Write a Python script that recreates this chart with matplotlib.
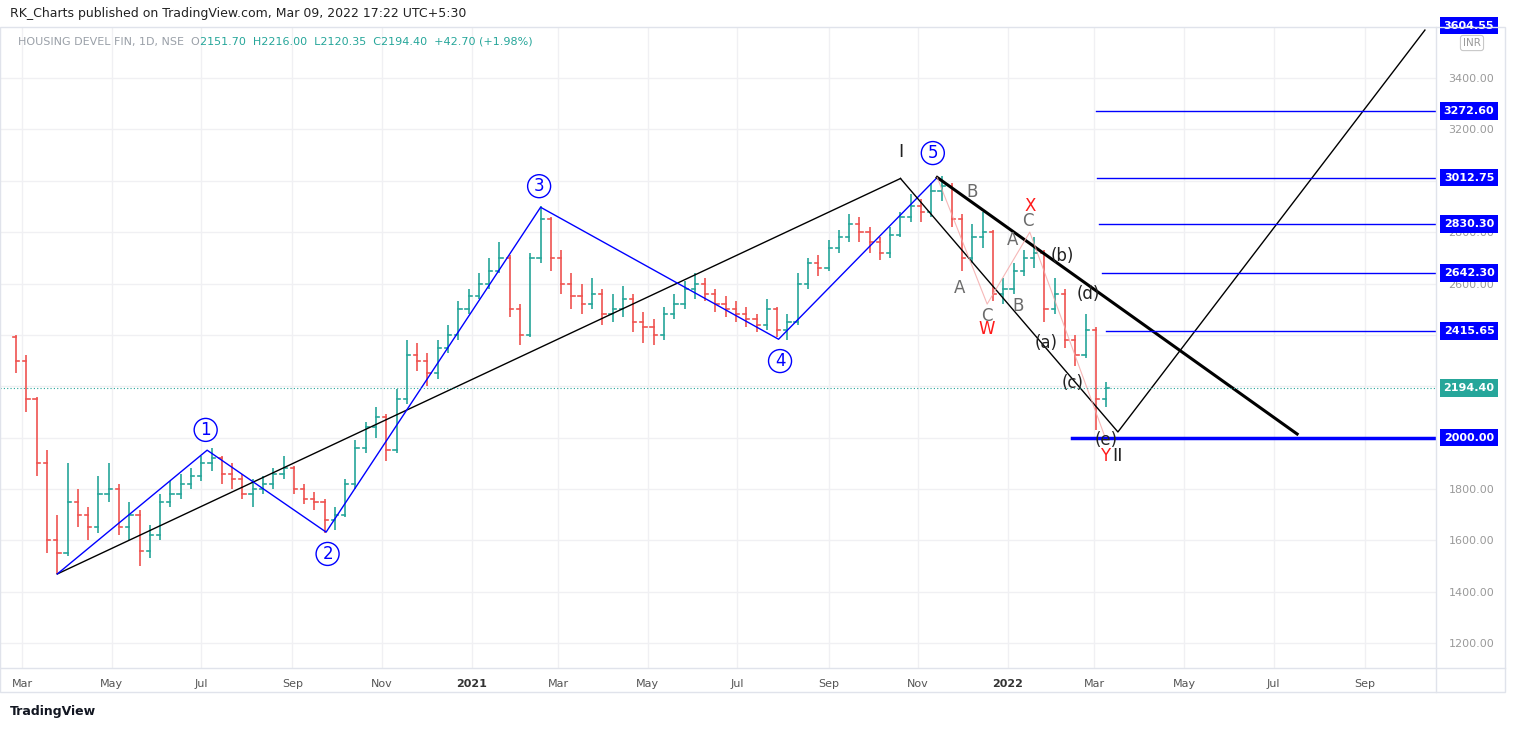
import matplotlib
matplotlib.use("Agg")
import matplotlib.pyplot as plt
import matplotlib.dates as mdates
import matplotlib.transforms as mtrans
import matplotlib.patches as mpatches
import pandas as pd

start_week = "2020-02-24"
closes = [2300,2150,1900,1600,1550,1750,1700,1650,1780,1800,1650,1700,1560,1620,1750,1780,1820,1850,1900,1920,
          1860,1840,1780,1800,1820,1860,1880,1800,1760,1750,1680,1700,1820,1960,2040,2080,1950,2150,2320,2300,
          2250,2350,2400,2500,2550,2600,2650,2700,2500,2400,2700,2850,2700,2600,2550,2520,2560,2480,2500,2540,
          2450,2430,2400,2480,2520,2580,2600,2560,2520,2500,2480,2460,2440,2500,2420,2450,2600,2680,2660,2740,
          2780,2830,2800,2760,2720,2790,2860,2900,2880,2960,2980,2850,2700,2780,2800,2560,2580,2650,2700,2720,
          2500,2560,2380,2320,2420,2150,2194.40]
highs = [2400,2320,2160,1950,1700,1900,1800,1730,1850,1900,1820,1750,1720,1660,1780,1830,1860,1880,1930,1960,
         1930,1900,1860,1840,1850,1880,1930,1890,1820,1790,1760,1730,1840,1990,2060,2120,2090,2190,2380,2370,
         2330,2380,2440,2530,2580,2640,2700,2760,2710,2520,2720,2900,2860,2730,2640,2600,2620,2580,2560,2590,
         2560,2490,2460,2510,2560,2610,2640,2620,2580,2550,2530,2510,2480,2540,2510,2480,2640,2700,2710,2770,
         2810,2870,2860,2820,2780,2820,2880,2950,2930,2990,3020,2990,2870,2830,2880,2810,2620,2680,2730,2780,
         2730,2620,2580,2400,2480,2430,2216]
lows = [2250,2100,1850,1550,1470,1540,1650,1600,1630,1750,1620,1600,1500,1530,1600,1730,1760,1800,1830,1870,
        1820,1800,1760,1730,1780,1800,1840,1780,1740,1720,1630,1640,1690,1800,1940,2000,1910,1940,2130,2260,
        2200,2230,2330,2380,2480,2540,2580,2640,2470,2360,2390,2680,2650,2560,2500,2480,2500,2440,2450,2470,
        2410,2370,2360,2380,2460,2500,2540,2530,2490,2470,2450,2430,2410,2420,2390,2380,2440,2580,2630,2650,
        2720,2760,2760,2720,2690,2700,2780,2840,2840,2860,2920,2820,2650,2680,2740,2530,2520,2560,2630,2660,
        2450,2480,2350,2280,2310,2030,2120]
first_open = 2390
last_open = 2151.70

wave_dates = ["2020-03-25","2020-07-05","2020-09-24","2021-02-17","2021-07-29","2021-11-14"]
wave_prices = [1469,1951,1632,2897,2383,3013]
wave_labels = ["1","2","3","4","5"]
wave_label_pos = [("2020-07-04",2030),("2020-09-25",1547),("2021-02-16",2979),("2021-07-30",2298),("2021-11-11",3108)]
big_dates = ["2020-03-25","2021-10-20"]; big_prices = [1469,3009]
thin_dates = ["2021-10-20","2022-03-17","2022-10-12"]; thin_prices = [3009,2022,3587]
thick_dates = ["2021-11-14","2022-07-17"]; thick_prices = [3013,2014]
wxy_dates = ["2021-11-14","2021-12-18","2022-01-16","2022-03-09"]; wxy_prices = [3013,2520,2800,1990]
levels = [3272.60,3012.75,2830.30,2642.30,2415.65,2000.00]
level_starts = ["2022-03-02","2022-03-03","2022-03-04","2022-03-06","2022-03-09","2022-02-14"]
top_level = 3604.55
last_price = 2194.40
gray_labels = [("B","2021-12-08",2956),("C","2022-01-15",2843),("A","2022-01-04",2769),
               ("A","2021-11-29",2583),("B","2022-01-08",2512),("C","2021-12-18",2473)]
red_labels = [("X","2022-01-16",2902),("W","2021-12-18",2422),("Y","2022-03-08",1928)]
dark_labels = [("(b)","2022-02-07",2707),("(d)","2022-02-25",2559),("(a)","2022-01-27",2368),
               ("(c)","2022-02-14",2212),("(e)","2022-03-09",1990),("I","2021-10-20",3112),("II","2022-03-17",1928)]
yticks = [1200,1400,1600,1800,2000,2200,2400,2600,2800,3000,3200,3400]
hidden_ticks = [2000,2200,2400,3000]

UP, DN = "#26a69a", "#ef5350"
W, H = 1514, 730
fig = plt.figure(figsize=(15.14, 7.30), dpi=100)
AX_R = 1436
ax = fig.add_axes([0, (H-668)/H, AX_R/W, (668-27)/H])
d = lambda s: mdates.date2num(pd.Timestamp(s))
x0 = d("2020-02-15"); x1 = x0 + AX_R/1.469
ax.set_xlim(x0, x1)
ax.set_ylim(2000 - (668-437.6)/0.2568, 2000 + (437.6-27)/0.2568)

dates = pd.date_range(start_week, periods=len(closes), freq="7D") + pd.Timedelta(days=2)
xs = mdates.date2num(dates)
opens = [first_open] + closes[:-1]
opens[-1] = last_open
for x, o, h, l, c in zip(xs, opens, highs, lows, closes):
    col = UP if c >= o else DN
    ax.plot([x, x], [l, h], color=col, lw=1.2, solid_capstyle="butt")
    ax.plot([x - 2.2, x], [o, o], color=col, lw=1.2)
    ax.plot([x, x + 2.2], [c, c], color=col, lw=1.2)

ax.plot([d(s) for s in big_dates], big_prices, color="black", lw=1)
ax.plot([d(s) for s in wave_dates], wave_prices, color="#0000ff", lw=1)
ax.plot([d(s) for s in thin_dates], thin_prices, color="black", lw=1)
ax.plot([d(s) for s in thick_dates], thick_prices, color="black", lw=2.2)
ax.plot([d(s) for s in wxy_dates], wxy_prices, color="#f4a6a6", lw=0.8, alpha=0.8)

for (s, p), t in zip(wave_label_pos, wave_labels):
    ax.text(d(s), p, t, color="#0000ff", fontsize=12, ha="center", va="center",
            bbox=dict(boxstyle="circle,pad=0.15", fc="white", ec="#0000ff", lw=1))
for t, s, p in gray_labels:
    ax.text(d(s), p, t, color="#6b6b6b", fontsize=12, ha="center", va="center")
for t, s, p in red_labels:
    ax.text(d(s), p, t, color="#ff1a1a", fontsize=12, ha="center", va="center")
for t, s, p in dark_labels:
    ax.text(d(s), p, t, color="#222222", fontsize=12 if len(t) > 2 else 13, ha="center", va="center")

LX = 1469 / AX_R
bt = mtrans.blended_transform_factory(ax.transAxes, ax.transData)
def price_box(v, fc):
    ax.text(LX, v, f"{v:.2f}", transform=bt, color="white", fontsize=8, fontweight="bold",
            ha="center", va="center", clip_on=False,
            bbox=dict(boxstyle="square,pad=0.35", fc=fc, ec="none"), zorder=10)
for lv, s in zip(levels, level_starts):
    ax.plot([d(s), x1], [lv, lv], color="#0000ff", lw=2.5 if lv == 2000 else 1)
    price_box(lv, "#0000ff")
price_box(top_level, "#0000ff")
ax.axhline(last_price, color="#26a69a", lw=0.8, ls=(0, (1, 2)))
price_box(last_price, UP)
fig.text(1472/W, 1 - 43/H, "INR", fontsize=7.5, color="#9a9a9a", ha="center", va="center",
         bbox=dict(boxstyle="round,pad=0.25", fc="white", ec="#c8c8c8", lw=0.8), zorder=11)

ax.set_yticks(yticks)
ax.yaxis.tick_right()
ax.set_yticklabels(["" if v in hidden_ticks else f"{v:.2f}" for v in yticks], color="#9a9a9a", fontsize=8)
ax.tick_params(axis="y", length=0, pad=9)
ticks, labels = [], []
for m in pd.date_range("2020-03-01", "2022-09-01", freq="2MS"):
    ticks.append(d(m)); labels.append(str(m.year) if m.month == 1 else m.strftime("%b"))
ax.set_xticks(ticks)
ax.set_xticklabels(labels, fontsize=8, color="#555555")
for lab in ax.get_xticklabels():
    if lab.get_text().isdigit():
        lab.set_fontweight("bold"); lab.set_color("#333333")
ax.tick_params(axis="x", length=0, pad=8)
ax.grid(True, color="#f0f0f3", lw=1)
for sp in ax.spines.values():
    sp.set_visible(False)
fig.add_artist(mpatches.Rectangle((0, (H-692)/H), 1505/W, (692-27)/H, transform=fig.transFigure,
                                  fill=False, ec="#e0e3eb", lw=1))
fig.add_artist(plt.Line2D([AX_R/W]*2, [(H-692)/H, (H-27)/H], transform=fig.transFigure, color="#e0e3eb", lw=1))
fig.add_artist(plt.Line2D([0, 1505/W], [(H-668)/H]*2, transform=fig.transFigure, color="#e0e3eb", lw=1))

fig.text(10/W, 1 - 13/H, "RK_Charts published on TradingView.com, Mar 09, 2022 17:22 UTC+5:30",
         fontsize=9, color="#222222", va="center")
t1 = fig.text(18/W, 1 - 42/H, "HOUSING DEVEL FIN, 1D, NSE  O", fontsize=8, color="#9aa0a8", va="center")
plt.annotate("2151.70  H2216.00  L2120.35  C2194.40  +42.70 (+1.98%)", xy=(1, 0.5), xycoords=t1,
             va="center", ha="left", fontsize=8, color=UP, annotation_clip=False)
fig.text(10/W, 1 - 712/H, "TradingView", fontsize=9, color="#131722", va="center", fontweight="bold")
fig.savefig("out.png", dpi=100, facecolor="white")
